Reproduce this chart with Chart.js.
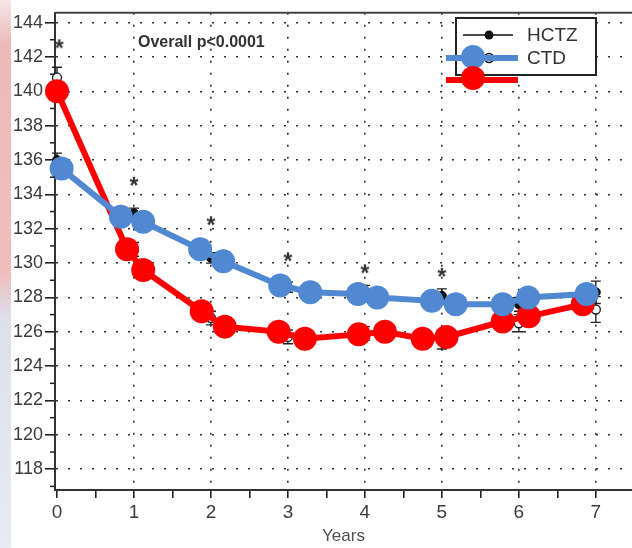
<!DOCTYPE html>
<html>
<head>
<meta charset="utf-8">
<script src="https://cdn.jsdelivr.net/npm/chart.js@4.4.1/dist/chart.umd.min.js"></script>
<style>
  html, body { margin: 0; padding: 0; background: #fff; }
  #wrap { position: relative; width: 632px; height: 548px; overflow: hidden; }
  #strip {
    position: absolute; left: 0; top: 0; width: 11px; height: 548px;
    background: linear-gradient(to bottom, #f3dede 0%, #e6a3a3 8%, #e9a9a9 50%, #cfd6e4 58%, #dfe6ef 100%);
    opacity: 0.75;
  }
  canvas { position: absolute; left: 0; top: 0; }
</style>
</head>
<body>
<div id="wrap">
  <div id="strip"></div>
  <canvas id="bp" width="632" height="548"></canvas>
</div>
<script>
// ---- data ----
const years      = [0, 1, 2, 3, 4, 5, 6, 7];
const hctzVals   = [136.0, 132.9, 130.3, 128.6, 128.4, 128.1, 127.6, 128.3];
const hctzErr    = [0.4, 0.3, 0.3, 0.3, 0.3, 0.4, 0.4, 0.65];
const ctdVals    = [140.8, 130.8, 126.8, 125.7, 125.9, 125.5, 126.5, 127.3];
const ctdErr     = [0.6, 0.4, 0.4, 0.4, 0.4, 0.5, 0.5, 0.75];

// blue overlay (CTD)
const blueX = [0.06, 0.83, 1.12, 1.86, 2.16, 2.90, 3.29, 3.91, 4.16, 4.87, 5.18, 5.79, 6.12, 6.88];
const blueY = [135.5, 132.7, 132.4, 130.8, 130.1, 128.7, 128.3, 128.2, 128.0, 127.8, 127.6, 127.6, 128.0, 128.2];
// red overlay
const redX  = [0.0, 0.91, 1.12, 1.88, 2.18, 2.88, 3.22, 3.92, 4.26, 4.75, 5.06, 5.79, 6.13, 6.83];
const redY  = [140.0, 130.8, 129.6, 127.2, 126.3, 126.0, 125.6, 125.85, 126.0, 125.6, 125.7, 126.6, 126.9, 127.6];

// significance stars
const starX = [0.03, 1, 2, 3, 4, 5];
const starY = [142.5, 134.5, 132.2, 130.1, 129.4, 129.2];

const xTicks = [0, 0.5, 1, 1.5, 2, 2.5, 3, 3.5, 4, 4.5, 5, 5.5, 6, 6.5, 7];
const yTicks = [117, 118, 119, 120, 121, 122, 123, 124, 125, 126, 127, 128, 129, 130,
                131, 132, 133, 134, 135, 136, 137, 138, 139, 140, 141, 142, 143, 144];

const blue = '#5088d2';
const red  = '#ff0000';
const ink  = '#333';
const FONT = "'Liberation Sans', Arial, sans-serif";

const pts = (xs, ys) => xs.map((x, i) => ({ x, y: ys[i] }));

// text asterisk used as the star marker (glyph centred in its box)
const starImg = (() => {
    const c = document.createElement('canvas');
    c.width = 24; c.height = 24;
    const g = c.getContext('2d');
    g.fillStyle = '#333';
    g.font = `bold 23px ${FONT}`;
    g.textAlign = 'center';
    g.textBaseline = 'alphabetic';
    g.fillText('*', 12, 19.5);
    return c;
})();

// error bars for the underlying series, drawn through the scales
const errorBars = {
    id: 'errorBars',
    beforeDatasetsDraw(chart) {
        const { ctx, scales: { x, y } } = chart;
        ctx.save();
        ctx.strokeStyle = '#222';
        ctx.lineWidth = 1.4;
        [[hctzVals, hctzErr], [ctdVals, ctdErr]].forEach(([vals, errs]) => {
            years.forEach((yr, i) => {
                const px = x.getPixelForValue(yr);
                const top = y.getPixelForValue(vals[i] + errs[i]);
                const bot = y.getPixelForValue(vals[i] - errs[i]);
                ctx.beginPath();
                ctx.moveTo(px, top); ctx.lineTo(px, bot);
                ctx.moveTo(px - 5, top); ctx.lineTo(px + 5, top);
                ctx.moveTo(px - 5, bot); ctx.lineTo(px + 5, bot);
                ctx.stroke();
            });
        });
        ctx.restore();
    }
};

// minor y ticks, top frame, legend box and annotation
const decor = {
    id: 'decor',
    afterDraw(chart) {
        const { ctx, chartArea: a, scales: { y } } = chart;
        ctx.save();
        // minor ticks on y
        ctx.strokeStyle = '#222';
        ctx.lineWidth = 1.5;
        yTicks.filter(v => v % 2 !== 0).forEach(v => {
            const py = y.getPixelForValue(v);
            ctx.beginPath(); ctx.moveTo(a.left - 5, py); ctx.lineTo(a.left, py); ctx.stroke();
        });
        // top frame
        ctx.strokeStyle = '#444';
        ctx.lineWidth = 2;
        ctx.beginPath(); ctx.moveTo(a.left, a.top); ctx.lineTo(632, a.top); ctx.stroke();

        // annotation
        ctx.fillStyle = ink;
        ctx.font = `bold 16px ${FONT}`;
        ctx.textBaseline = 'middle';
        ctx.fillText('Overall p<0.0001', 138, 43);

        // legend box
        ctx.fillStyle = '#fff';
        ctx.fillRect(456, 18, 140, 57);
        ctx.strokeStyle = '#222';
        ctx.lineWidth = 2;
        ctx.strokeRect(456, 18, 140, 57);
        ctx.lineWidth = 1.5;
        ctx.strokeStyle = '#111';
        ctx.beginPath(); ctx.moveTo(463, 35); ctx.lineTo(513, 35); ctx.stroke();
        ctx.fillStyle = '#111';
        ctx.beginPath(); ctx.arc(489, 35, 4.5, 0, Math.PI * 2); ctx.fill();
        ctx.beginPath(); ctx.moveTo(463, 58); ctx.lineTo(513, 58); ctx.stroke();
        ctx.fillStyle = '#fff';
        ctx.beginPath(); ctx.arc(489, 58, 4.5, 0, Math.PI * 2); ctx.fill(); ctx.stroke();
        ctx.fillStyle = ink;
        ctx.font = `19px ${FONT}`;
        ctx.fillText('HCTZ', 527, 36);
        ctx.fillText('CTD', 527, 59);
        // overlaid legend marks
        ctx.lineWidth = 6;
        ctx.strokeStyle = blue;
        ctx.beginPath(); ctx.moveTo(446, 58); ctx.lineTo(518, 58); ctx.stroke();
        ctx.fillStyle = blue;
        ctx.beginPath(); ctx.arc(473, 57, 12, 0, Math.PI * 2); ctx.fill();
        ctx.strokeStyle = red;
        ctx.beginPath(); ctx.moveTo(446, 80); ctx.lineTo(518, 80); ctx.stroke();
        ctx.fillStyle = red;
        ctx.beginPath(); ctx.arc(473, 78, 12, 0, Math.PI * 2); ctx.fill();
        ctx.restore();
    }
};

new Chart(document.getElementById('bp'), {
    type: 'scatter',
    data: {
        datasets: [
            {
                label: 'stars', data: pts(starX, starY), order: 0, clip: false,
                pointStyle: starImg, pointRadius: 12, showLine: false
            },
            {
                label: 'CTD', data: pts(blueX, blueY), order: 1, showLine: true, clip: false,
                borderColor: blue, backgroundColor: blue, borderWidth: 6,
                pointRadius: 12, pointBorderWidth: 0, pointHoverRadius: 12
            },
            {
                label: 'red', data: pts(redX, redY), order: 2, showLine: true, clip: false,
                borderColor: red, backgroundColor: red, borderWidth: 6,
                pointRadius: 12, pointBorderWidth: 0, pointHoverRadius: 12
            },
            {
                label: 'CTD (orig)', data: pts(years, ctdVals), order: 3, showLine: false, clip: false,
                borderColor: '#222', backgroundColor: '#fff',
                pointRadius: 4.5, pointBorderWidth: 1.4
            },
            {
                label: 'HCTZ', data: pts(years, hctzVals), order: 4, showLine: false, clip: false,
                borderColor: '#111', backgroundColor: '#111',
                pointRadius: 4.5
            }
        ]
    },
    options: {
        responsive: false,
        animation: false,
        layout: { autoPadding: false, padding: { top: 6, left: 0, right: 0, bottom: 0 } },
        plugins: { legend: { display: false }, tooltip: { enabled: false } },
        scales: {
            x: {
                type: 'linear', min: -0.026, max: 7.47,
                afterBuildTicks: (s) => { s.ticks = xTicks.map(v => ({ value: v })); },
                afterFit: (s) => { s.height = 58; },
                ticks: {
                    color: '#3c3c3c', font: { family: FONT, size: 19 }, padding: 3,
                    maxRotation: 0, autoSkip: false,
                    callback: (v) => Number.isInteger(v) ? String(v) : ''
                },
                grid: {
                    color: (c) => (c.tick && Number.isInteger(c.tick.value) && c.tick.value > 0) ? '#333' : 'rgba(0,0,0,0)',
                    lineWidth: 1.6, tickColor: '#222', tickLength: 8, tickWidth: 1.6
                },
                border: { display: true, color: '#333', width: 2, dash: [2, 10] },
                title: {
                    display: true, text: 'Years', color: '#505050',
                    font: { family: FONT, size: 17 }, padding: { top: 0, bottom: 1 }
                }
            },
            y: {
                type: 'linear', min: 116.79, max: 144.57,
                afterBuildTicks: (s) => { s.ticks = yTicks.map(v => ({ value: v })); },
                afterFit: (s) => { s.width = 55; },
                ticks: {
                    color: '#3c3c3c', font: { family: FONT, size: 18 }, padding: 2,
                    autoSkip: false,
                    callback: (v) => v % 2 === 0 ? String(v) : ''
                },
                grid: {
                    color: (c) => (c.tick && c.tick.value % 2 === 0) ? '#333' : 'rgba(0,0,0,0)',
                    lineWidth: 1.6, tickLength: 10, tickWidth: 1.6,
                    tickColor: (c) => (c.tick && c.tick.value % 2 === 0) ? '#222' : 'rgba(0,0,0,0)'
                },
                border: { display: true, color: '#333', width: 2, dash: [2, 10] }
            }
        }
    },
    plugins: [errorBars, decor]
});
</script>
</body>
</html>
